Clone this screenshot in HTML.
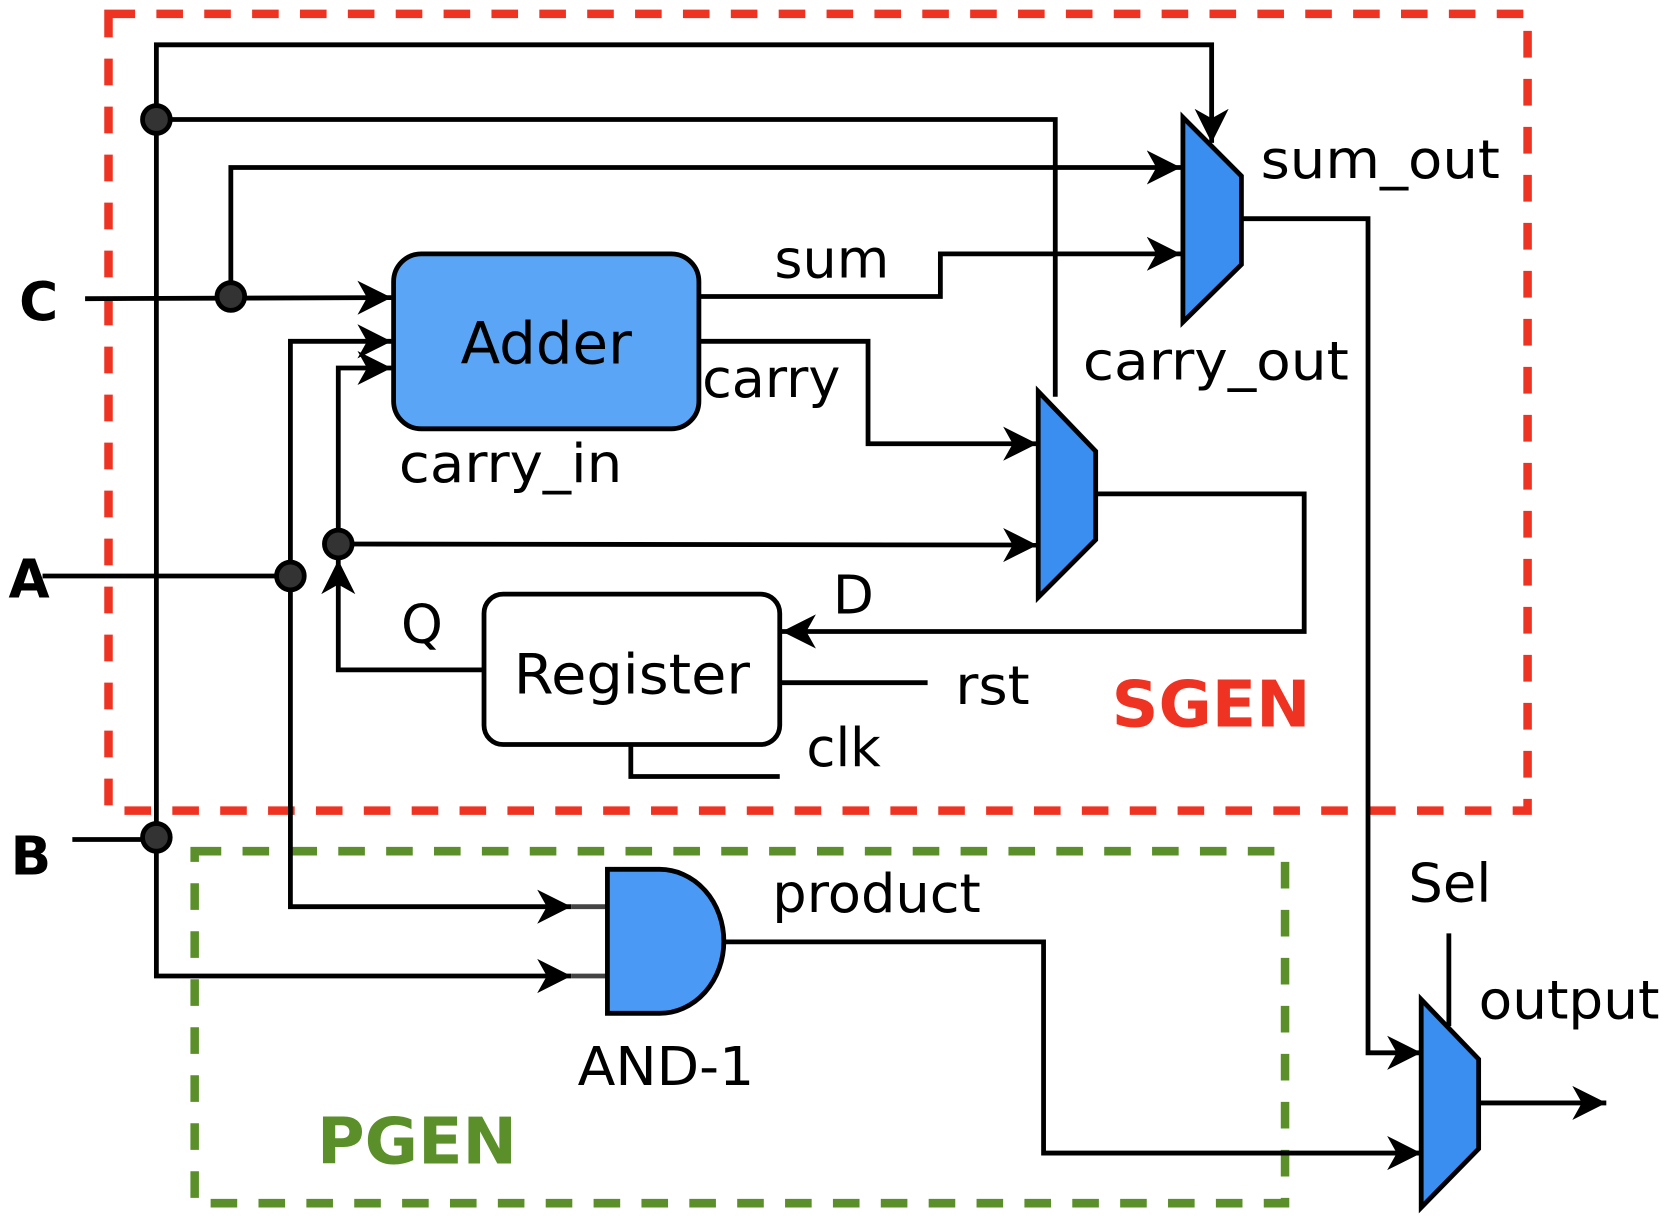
<!DOCTYPE html>
<html><head><meta charset="utf-8"><style>
html,body{margin:0;padding:0;background:#fff;overflow:hidden}
svg{display:block}
text{font-family:"DejaVu Sans","Liberation Sans",sans-serif;fill:#000}
</style></head><body>
<svg width="1668" height="1216" viewBox="0 0 1568 1140" preserveAspectRatio="none" xmlns="http://www.w3.org/2000/svg">
<defs>
<marker id="a" markerUnits="userSpaceOnUse" markerWidth="34" markerHeight="34" refX="32" refY="17" orient="auto">
<path d="M0,1 L32,17 L0,33 L9,17 Z" fill="#000"/>
</marker>
</defs>
<g fill="none" stroke-width="8">
<rect x="102" y="13" width="1334" height="747" stroke="#ee3322" stroke-dasharray="25,20"/>
<rect x="183" y="798" width="1025" height="330" stroke="#5a8f29" stroke-dasharray="25,20"/>
</g>
<g fill="none" stroke="#000" stroke-width="4.5">
<polyline points="147,785 147,42 1139,42 1139,134" marker-end="url(#a)"/>
<polyline points="147,112 992,112 992,372"/>
<polyline points="80,280 368,279" marker-end="url(#a)"/>
<polyline points="217,278 217,157 1110,157" marker-end="url(#a)"/>
<polyline points="657,278 884,278 884,238 1110,238" marker-end="url(#a)"/>
<polyline points="657,320 816,320 816,416 975,416" marker-end="url(#a)"/>
<polyline points="1167,205 1286,205 1286,987 1336,987" marker-end="url(#a)"/>
<polyline points="1030,463 1226,463 1226,592 735,592" marker-end="url(#a)"/>
<polyline points="455,628 318,628 318,525" marker-end="url(#a)"/>
<polyline points="318,510 975,511" marker-end="url(#a)"/>
<polyline points="318,510 318,345 368,345" marker-end="url(#a)"/>
<polyline points="40,540 273,540"/>
<polyline points="273,540 273,320 368,320" marker-end="url(#a)"/>
<polyline points="273,540 273,850 537,850" marker-end="url(#a)"/>
<polyline points="68,787 147,787 147,915 537,915" marker-end="url(#a)"/>
<polyline points="680,883 981,883 981,1081 1336,1081" marker-end="url(#a)"/>
<polyline points="735,640 872,640"/>
<polyline points="593,698 593,728 733,728"/>
<polyline points="1362,875 1362,962"/>
<polyline points="1390,1034 1510,1034" marker-end="url(#a)"/>
<polyline points="537,850 571,850" stroke="#444"/>
<polyline points="537,915 571,915" stroke="#444"/>
</g>
<g stroke="#000" stroke-width="4.5">
<rect x="370" y="238" width="287" height="164" rx="26" fill="#5aa5f5"/>
<rect x="455" y="557" width="278" height="141" rx="18" fill="#fff"/>
<polygon points="1112,110 1167,165 1167,248 1112,302" fill="#3a8ef0"/>
<polygon points="976,367 1030,423 1030,506 976,560" fill="#3a8ef0"/>
<polygon points="1336,937 1390,993 1390,1077 1336,1132" fill="#3a8ef0"/>
<path d="M571,815 H620 A60,67 0 0 1 620,950 H571 Z" fill="#4a9af5"/>
<circle cx="147" cy="112" r="13" fill="#333"/>
<circle cx="217" cy="278" r="13" fill="#333"/>
<circle cx="273" cy="540" r="13" fill="#333"/>
<circle cx="318" cy="510" r="13" fill="#333"/>
<circle cx="147" cy="785" r="13" fill="#333"/>
</g>
<g font-size="50">
<text x="433" y="341" font-size="54" textLength="161" lengthAdjust="spacingAndGlyphs">Adder</text>
<text x="483" y="650" font-size="52" textLength="222" lengthAdjust="spacingAndGlyphs">Register</text>
<text x="1185" y="167" textLength="225" lengthAdjust="spacingAndGlyphs">sum_out</text>
<text x="728" y="260" textLength="108" lengthAdjust="spacingAndGlyphs">sum</text>
<text x="1018" y="356" textLength="250" lengthAdjust="spacingAndGlyphs">carry_out</text>
<text x="660" y="372" textLength="130" lengthAdjust="spacingAndGlyphs">carry</text>
<text x="375" y="452" textLength="210" lengthAdjust="spacingAndGlyphs">carry_in</text>
<text x="783" y="575">D</text>
<text x="377" y="603">Q</text>
<text x="898" y="660" textLength="70" lengthAdjust="spacingAndGlyphs">rst</text>
<text x="758" y="718" textLength="70" lengthAdjust="spacingAndGlyphs">clk</text>
<text x="726" y="855" textLength="196" lengthAdjust="spacingAndGlyphs">product</text>
<text x="543" y="1017" textLength="166" lengthAdjust="spacingAndGlyphs">AND-1</text>
<text x="1324" y="845" textLength="78" lengthAdjust="spacingAndGlyphs">Sel</text>
<text x="1390" y="955" textLength="170" lengthAdjust="spacingAndGlyphs">output</text>
<text x="1045" y="681" font-weight="bold" font-size="60" textLength="187" lengthAdjust="spacingAndGlyphs" style="fill:#ee3322">SGEN</text>
<text x="298" y="1091" font-weight="bold" font-size="60" textLength="188" lengthAdjust="spacingAndGlyphs" style="fill:#5a8f29">PGEN</text>
<text x="18" y="300" font-weight="bold">C</text>
<text x="8" y="560" font-weight="bold">A</text>
<text x="10" y="820" font-weight="bold">B</text>
</g>
</svg>
</body></html>
